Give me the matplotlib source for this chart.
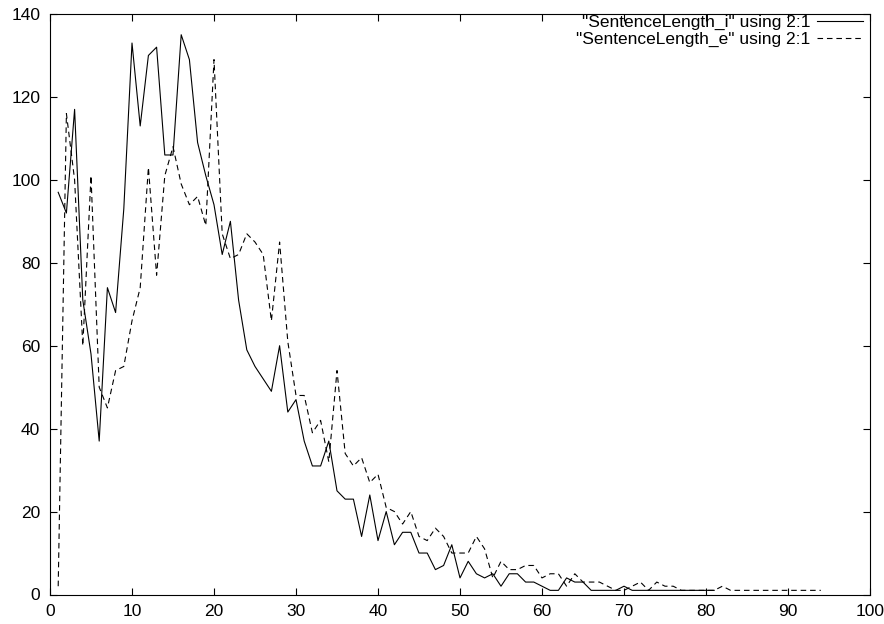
import numpy as np
import matplotlib
matplotlib.use("Agg")
import matplotlib.pyplot as plt

plt.rcParams["font.family"] = ["Liberation Sans", "DejaVu Sans"]

# sentence length (x) and count (y)
len_i = list(range(1, 82))
count_i = [97, 92, 117, 71, 58, 37, 74, 68, 93, 133,
           113, 130, 132, 106, 106, 135, 129, 109, 101, 94,
           82, 90, 71, 59, 55, 52, 49, 60, 44, 47,
           37, 31, 31, 37, 25, 23, 23, 14, 24, 13,
           20, 12, 15, 15, 10, 10, 6, 7, 12, 4,
           8, 5, 4, 5, 2, 5, 5, 3, 3, 2,
           1, 1, 4, 3, 3, 1, 1, 1, 1, 2,
           1, 1, 1, 1, 1, 1, 1, 1, 1, 1, 1]

len_e = list(range(1, 95))
count_e = [2, 116, 100, 60, 101, 50, 45, 54, 55, 66,
           74, 103, 77, 101, 108, 99, 94, 96, 89, 129,
           87, 81, 82, 87, 85, 82, 66, 85, 61, 48,
           48, 39, 42, 32, 54, 34, 31, 33, 27, 29,
           21, 20, 17, 20, 14, 13, 16, 14, 10, 10,
           10, 14, 11, 4, 8, 6, 6, 7, 7, 4,
           5, 5, 2, 5, 3, 3, 3, 2, 1, 1,
           2, 3, 1, 3, 2, 2, 1, 1, 1, 1,
           1, 2, 1, 1, 1, 1, 1, 1, 1, 1,
           1, 1, 1, 1]

labels = ['"SentenceLength_i" using 2:1', '"SentenceLength_e" using 2:1']

fig = plt.figure(figsize=(8.84, 6.24), dpi=100)
ax = fig.add_axes([50 / 884, 29.5 / 624, 820 / 884, 580.5 / 624])

ax.plot(len_i, count_i, color="black", lw=0.8, label=labels[0])
ax.plot(len_e, count_e, color="black", lw=0.8, linestyle=(0, (5, 3.5)), label=labels[1])

ax.set_xlim(0, 100)
ax.set_ylim(0, 140)
ax.set_xticks(np.arange(0, 101, 10))
ax.set_yticks(np.arange(0, 141, 20))
ax.tick_params(direction="in", length=5, width=0.8, top=True, right=True,
               labelsize=12.5, pad=7)
for s in ax.spines.values():
    s.set_linewidth(0.8)

# gnuplot style key: text first, sample line on the right, near the top
ax.legend(loc="upper right", bbox_to_anchor=(0.992, 0.998), frameon=False,
          markerfirst=False, fontsize=12.5,
          handlelength=2.65, handletextpad=0.4, labelspacing=0.1,
          borderpad=0.0, borderaxespad=0.0)

fig.savefig("out.png", dpi=100)
